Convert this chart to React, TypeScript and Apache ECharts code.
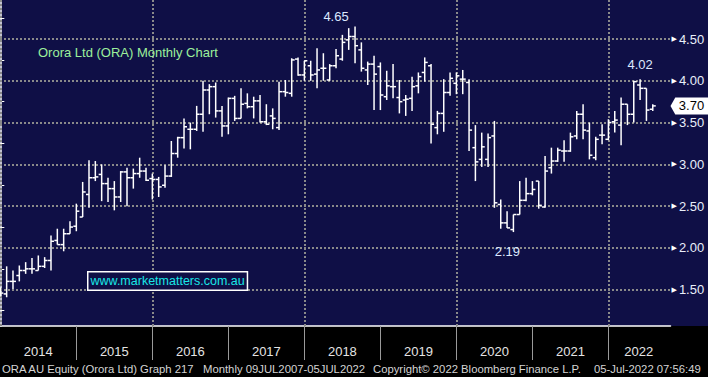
import React, { useEffect, useRef } from "react";
import * as echarts from "echarts";

// Monthly OHLC bars, Dec 2013 .. Jul 2022 (index 0 = Dec 2013)
const startLabel = "Dec 2013";
const openVals = [1.50,1.45,1.60,1.67,1.73,1.75,1.73,1.78,1.85,2.09, 2.04,2.17,2.26,2.37,2.64,2.84,2.88,2.77,2.71,2.61, 2.91,2.84,2.89,2.92,2.83,2.82,2.75,2.86,3.13,3.32, 3.42,3.42,3.60,3.89,3.93,3.64,3.46,3.79,3.55,3.73, 3.69,3.76,3.51,3.58,3.44,3.87,3.85,4.26,4.07,4.18, 4.08,4.15,4.01,4.18,4.26,4.49,4.53,4.37,4.13,4.20, 4.17,3.81,3.93,3.80,3.77,3.79,3.94,4.10,4.18,3.44, 3.61,3.86,3.97,4.02,3.98,3.20,3.06,3.06,3.34,2.52, 2.30,2.22,2.40,2.57,2.65,2.80,2.49,2.96,3.04,3.16, 3.16,3.34,3.60,3.40,3.08,3.35,3.30,3.51,3.47,3.72, 3.60,3.95,3.91,3.66];
const highVals = [1.53,1.78,1.73,1.79,1.83,1.88,1.91,1.89,2.15,2.23, 2.23,2.32,2.53,2.79,3.05,3.04,3.00,2.84,2.80,2.92, 2.96,2.95,3.08,2.96,2.89,2.85,2.99,3.28,3.33,3.55, 3.50,3.70,4.00,3.96,3.98,3.70,3.80,3.82,3.91,3.85, 3.81,3.83,3.72,3.67,3.99,4.01,4.27,4.28,4.24,4.24, 4.39,4.33,4.20,4.38,4.55,4.63,4.65,4.46,4.23,4.30, 4.22,4.12,4.20,4.01,3.83,4.05,4.10,4.28,4.20,3.64, 4.02,4.10,4.10,4.13,4.02,3.47,3.38,3.37,3.52,2.58, 2.44,2.40,2.80,2.84,2.80,2.80,3.10,3.20,3.20,3.29, 3.38,3.64,3.72,3.50,3.33,3.48,3.54,3.64,3.80,3.72, 4.00,4.02,3.91,3.72];
const lowVals = [1.42,1.41,1.51,1.60,1.69,1.69,1.73,1.76,1.73,2.04, 1.96,2.17,2.20,2.37,2.48,2.80,2.56,2.55,2.45,2.55, 2.50,2.71,2.84,2.80,2.58,2.61,2.72,2.85,3.08,3.19, 3.18,3.40,3.39,3.60,3.56,3.33,3.36,3.52,3.55,3.67, 3.55,3.50,3.47,3.42,3.41,3.81,3.81,4.06,4.00,4.00, 3.91,4.00,4.00,4.15,4.24,4.37,4.21,4.11,3.95,3.65, 3.65,3.77,3.79,3.61,3.58,3.64,3.85,3.99,3.25,3.36, 3.39,3.82,3.84,3.84,3.16,2.80,2.97,2.97,2.48,2.23, 2.24,2.19,2.40,2.56,2.63,2.47,2.48,2.89,3.03,3.03, 3.15,3.30,3.30,3.06,3.05,3.24,3.29,3.38,3.23,3.47, 3.50,3.77,3.52,3.64];
const closeVals = [1.46,1.60,1.60,1.73,1.75,1.75,1.78,1.85,2.08,2.04, 2.17,2.25,2.44,2.67,2.84,2.85,2.77,2.71,2.61,2.91, 2.84,2.89,2.92,2.81,2.82,2.73,2.86,3.13,3.32,3.45, 3.42,3.60,3.89,3.93,3.64,3.46,3.79,3.55,3.72,3.69, 3.76,3.51,3.48,3.55,3.87,3.86,4.25,4.07,4.24,4.07, 4.13,4.15,4.18,4.30,4.46,4.53,4.42,4.15,4.20,4.08, 3.83,3.94,3.93,3.75,3.78,3.93,4.05,4.22,3.48,3.61, 3.86,4.03,4.06,4.02,3.41,3.03,3.21,3.32,2.54,2.30, 2.24,2.40,2.57,2.65,2.70,2.51,2.92,3.04,3.17,3.16, 3.33,3.60,3.41,3.11,3.30,3.35,3.50,3.53,3.72,3.60, 3.99,3.91,3.65,3.70];

// Axis labels / ticks
const yearLabels = ["2014","2015","2016","2017","2018","2019","2020","2021","2022"];
const yearLabelPos = [6, 18, 30, 42, 54, 66, 78, 90, 100.8];
const yearTickPos = [12, 24, 36, 48, 60, 72, 84, 96];
const gridXPos = [0, 24, 48, 72, 96];
const priceLabels = [1.5, 2.0, 2.5, 3.0, 3.5, 4.0, 4.5];
const priceMinorTicks = [1.25, 1.75, 2.25, 2.75, 3.25, 3.75, 4.25, 4.75];

// Annotations
const annotations = [
  { idx: 56, value: 4.65, offset: [-19, -10] },
  { idx: 101, value: 4.02, offset: [0, -15] },
  { idx: 81, value: 2.19, offset: [-6, 19] },
];
const lastPrice = 3.70;

const titleText = "Orora Ltd (ORA) Monthly Chart";
const siteText = "www.marketmatters.com.au";
const footerParts = [
  "ORA AU Equity (Orora Ltd) Graph 217",
  "Monthly 09JUL2007-05JUL2022",
  "Copyright\u00A9 2022 Bloomberg Finance L.P.",
  "05-Jul-2022 07:56:49",
];

const X_MIN = -0.05;
const X_MAX = 105.8;
const Y_MIN = 1.066;
const Y_MAX = 4.967;

export default function App() {
  const ref = useRef<HTMLDivElement>(null);
  useEffect(() => {
    if (!ref.current) return;
    const chart = echarts.init(ref.current, null, { renderer: "svg" });
    const ohlc = openVals.map((o, i) => [i, o, highVals[i], lowVals[i], closeVals[i]]);
    const white = "#ffffff";
    const labelFont = '"Liberation Sans", Arial, sans-serif';
    const footerFont = `11.3px ${labelFont}`;

    const option: any = {
      animation: false,
      backgroundColor: "transparent",
      grid: { left: 0, right: 37.5, top: 0, bottom: 51 },
      xAxis: {
        type: "value",
        min: X_MIN,
        max: X_MAX,
        axisLine: { show: true, onZero: false, lineStyle: { color: white, width: 1.5 } },
        axisTick: { show: true, customValues: yearTickPos, length: 34, lineStyle: { color: "#9a9a9a", width: 1 } },
        axisLabel: {
          customValues: yearLabelPos,
          formatter: (v: number) => yearLabels[Math.floor(v / 12)] ?? "",
          color: "#e4e4e4",
          fontSize: 13,
          fontFamily: labelFont,
          margin: 19,
        },
        splitLine: { show: false },
      },
      yAxis: {
        type: "value",
        position: "right",
        min: Y_MIN,
        max: Y_MAX,
        axisLine: { show: true, lineStyle: { color: white, width: 1.5 } },
        axisTick: { show: true, customValues: priceMinorTicks, length: 4, inside: false, lineStyle: { color: white, width: 1 } },
        axisLabel: {
          customValues: priceLabels,
          formatter: (v: number) => `{t|\u25B6}{v|${v.toFixed(2)}}`,
          margin: 1,
          rich: {
            t: { fontSize: 7, color: white, padding: [0, 2, 0, 0], fontFamily: "DejaVu Sans" },
            v: { fontSize: 13, color: "#e8eefa", fontFamily: labelFont },
          },
        },
        splitLine: { show: false },
      },
      series: [
        {
          type: "line",
          data: closeVals.map((c, i) => [i, c]),
          showSymbol: false,
          silent: true,
          z: 1,
          lineStyle: { opacity: 0, width: 0 },
          markLine: {
            silent: true,
            symbol: ["none", "none"],
            label: { show: false },
            lineStyle: { color: "#8a8a8a", type: [2, 2], width: 2 },
            data: [
              ...priceLabels.map((v) => ({ yAxis: v })),
              ...gridXPos.map((v) => ({ xAxis: v })),
            ],
          },
          markPoint: {
            silent: true,
            data: [
              ...annotations.map((a) => ({
                coord: [a.idx, a.value],
                value: a.value,
                symbol: "circle",
                symbolSize: 0,
                label: {
                  show: true,
                  position: "inside",
                  offset: a.offset,
                  formatter: (p: any) => Number(p.value).toFixed(2),
                  color: "#dce8ff",
                  fontSize: 13,
                  fontFamily: labelFont,
                },
              })),
              {
                coord: [X_MAX, lastPrice],
                value: lastPrice,
                symbol: "path://M0,5 L5,0 L40,0 L40,10 L5,10 Z",
                symbolSize: [38, 17],
                symbolOffset: [19, 0],
                symbolKeepAspect: false,
                itemStyle: { color: "#ffffff" },
                label: {
                  show: true,
                  position: "inside",
                  offset: [2, 0],
                  formatter: (p: any) => Number(p.value).toFixed(2),
                  color: "#000000",
                  fontSize: 13,
                  fontFamily: labelFont,
                },
              },
            ],
          },
        },
        {
          type: "custom",
          z: 5,
          clip: true,
          data: ohlc,
          encode: { x: 0, y: [1, 2, 3, 4] },
          renderItem: (params: any, api: any) => {
            const x = api.value(0);
            const o = api.coord([x, api.value(1)]);
            const h = api.coord([x, api.value(2)]);
            const l = api.coord([x, api.value(3)]);
            const c = api.coord([x, api.value(4)]);
            const w = 3;
            const st = { stroke: white, lineWidth: 1.5 };
            return {
              type: "group",
              children: [
                { type: "line", shape: { x1: h[0], y1: h[1], x2: l[0], y2: l[1] }, style: st },
                { type: "line", shape: { x1: o[0] - w, y1: o[1], x2: o[0], y2: o[1] }, style: st },
                { type: "line", shape: { x1: c[0], y1: c[1], x2: c[0] + w, y2: c[1] }, style: st },
              ],
            };
          },
        },
      ],
      graphic: [
        {
          type: "text",
          left: 38,
          top: 46,
          z: 10,
          style: { text: titleText, fill: "#9cf09c", font: `13px ${labelFont}` },
        },
        {
          type: "text",
          left: 87,
          top: 271,
          z: 10,
          style: {
            text: siteText,
            fill: "#19e6e6",
            font: `12.5px ${labelFont}`,
            backgroundColor: "#0f0f46",
            borderColor: "#ffffff",
            borderWidth: 1.5,
            padding: [2, 2, 2, 2],
          },
        },
        { type: "text", left: 2, top: 363, style: { text: footerParts[0], fill: "#d4d4d4", font: footerFont } },
        { type: "text", left: 203, top: 363, style: { text: footerParts[1], fill: "#d4d4d4", font: footerFont } },
        { type: "text", left: 373, top: 363, style: { text: footerParts[2], fill: "#d4d4d4", font: footerFont } },
        { type: "text", left: 594, top: 363, style: { text: footerParts[3], fill: "#d4d4d4", font: footerFont } },
      ],
    };
    chart.setOption(option);
    return () => chart.dispose();
  }, []);

  return (
    <div
      style={{
        position: "fixed",
        left: 0,
        top: 0,
        width: 708,
        height: 377,
        background: "linear-gradient(to bottom, #0f0f46 0px, #0f0f46 326px, #000000 326px, #000000 377px)",
      }}
    >
      <div ref={ref} style={{ width: 708, height: 377 }} data-start={startLabel} />
    </div>
  );
}
